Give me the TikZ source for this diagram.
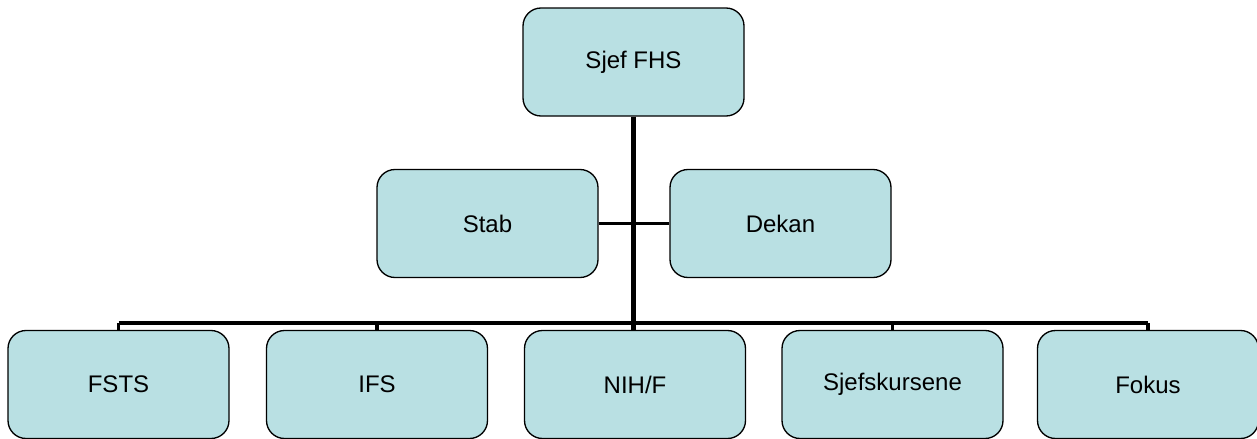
\documentclass[tikz,border=0pt]{standalone}
\usepackage{fontspec}
\setmainfont{Liberation Sans}
\tikzset{every picture/.style={line width=0.75pt}}
\tikzset{
  unit/.style={draw=black, line width=1pt, fill={rgb, 255:red, 185; green, 224; blue, 227}, rounded corners=13.5pt, minimum width=165.75pt, minimum height=81pt, font=\fontsize{18pt}{21.5pt}\selectfont},
  trunk/.style={line width=3.2pt},
  busline/.style={line width=3.4pt},
  branch/.style={line width=2.4pt}
}
\begin{document}
\begin{tikzpicture}[x=0.75pt,y=0.75pt,yscale=-1,xscale=1]
\useasboundingbox (0,0) rectangle (1257,439);

% Boxes
\draw (633.5,62) node [unit] (sjef) {Sjef FHS};
\draw (487.5,223.5) node [unit] (stab) {Stab};
\draw (780.5,223.5) node [unit] (dekan) {Dekan};

\draw (118.5,384.5) node [unit] (fsts) {FSTS};
\draw (377,384.5) node [unit] (ifs) {IFS};
\draw (635,384.5) node [unit] (nihf) {NIH/F};
\draw (892.5,384.5) node [unit] (sjefskurs) {Sjefskursene};
\draw (1148,384.5) node [unit] (fokus) {Fokus};

% Bus line
\coordinate (bus) at (634,323);

% Connectors
\draw [branch] (stab.east) -- (dekan.west);
\draw [busline] (fsts.north |- bus) -- (fokus.north |- bus);
\foreach \n in {fsts,ifs,sjefskurs,fokus}
  \draw [branch] (\n.north |- bus) -- (\n.north);
\draw [trunk] (sjef.south) -- (sjef.south |- nihf.north);

\end{tikzpicture}
\end{document}
